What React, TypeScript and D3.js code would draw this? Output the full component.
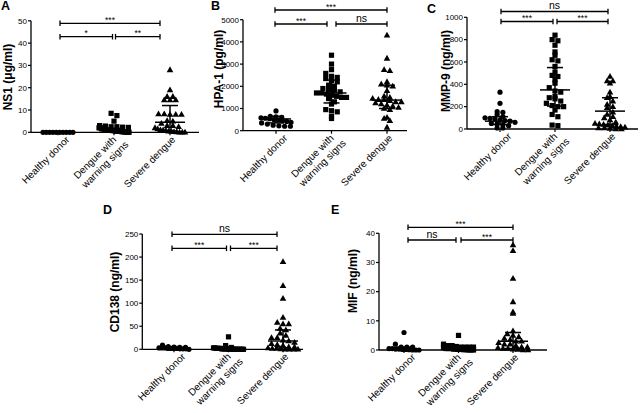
import React from "react";
import * as d3 from "d3";

// ---------- data ----------
const categoryLines: string[][] = [["Healthy donor"], ["Dengue with", "warning signs"], ["Severe dengue"]];

// A: NS1 (μg/ml)
const ns1Healthy = [0, 0, 0, 0, 0, 0, 0, 0, 0, 0];
const ns1Dengue = [8.5, 7.5, 5, 3, 2.8, 2.5, 2.5, 2.3, 2.2, 2, 2, 1.8, 1.5, 1.2, 1, 1, 1, 0.9, 0.8, 0.7, 0.6, 0.5, 0.5, 0.4, 0.3, 0.2, 0.2, 0.1, 0.1, 0];
const ns1Severe = [28, 19, 16, 16, 14.5, 14.5, 14.5, 8.2, 8.2, 8, 8, 8, 5.2, 5, 4, 3, 3, 2.5, 2, 1.5, 1, 1, 0.8, 0.5, 0.5, 0.3, 0.2, 0, 0, 0];
const ns1Stats = [[0, 0, 0], [0.7, 0.2, 1.8], [4.5, 0.5, 12]]; // median, q1, q3
const ns1Ticks = [0, 10, 20, 30, 40, 50];
const ns1Sig = ["***", "*", "**"];

// B: HPA-1 (pg/ml)
const hpaHealthy = [890, 650, 620, 600, 580, 560, 540, 500, 480, 450, 420, 380, 350, 300, 250, 220, 200, 200];
const hpaDengue = [3400, 3000, 2750, 2580, 2450, 2400, 2350, 2250, 2200, 2050, 2000, 1900, 1850, 1800, 1750, 1700, 1700, 1650, 1600, 1550, 1500, 1500, 1450, 1300, 1200, 950, 900, 850, 650, 550];
const hpaSevere = [4300, 3260, 2750, 2700, 2200, 2100, 2050, 2000, 1800, 1550, 1500, 1450, 1400, 1400, 1350, 1300, 1300, 1250, 1200, 1150, 1100, 1050, 1000, 950, 600, 550, 450, 150];
const hpaStats = [[530, 350, 650], [1700, 1250, 2280], [1380, 1000, 2050]];
const hpaTicks = [0, 1000, 2000, 3000, 4000, 5000];
const hpaSig = ["***", "***", "ns"];

// C: MMP-9 (ng/ml)
const mmpHealthy = [330, 230, 155, 150, 130, 110, 100, 95, 90, 80, 75, 70, 60, 50, 45, 40, 30, 10, 10];
const mmpDengue = [840, 800, 790, 750, 690, 660, 620, 610, 560, 510, 480, 470, 440, 410, 370, 340, 330, 290, 280, 270, 250, 230, 210, 200, 200, 170, 130, 110, 35, 30];
const mmpSevere = [470, 430, 430, 410, 330, 290, 280, 250, 220, 200, 190, 150, 130, 110, 100, 80, 60, 50, 45, 40, 35, 30, 25, 20, 15, 10, 10, 5, 0, 0];
const mmpStats = [[70, 40, 110], [350, 205, 550], [160, 40, 280]];
const mmpTicks = [0, 200, 400, 600, 800, 1000];
const mmpSig = ["ns", "***", "***"];

// D: CD138 (ng/ml)
const cdHealthy = [9, 6, 5, 4, 4, 3, 3, 3, 2, 2, 2, 2, 1, 1, 1, 0];
const cdDengue = [27, 8, 4, 3, 3, 2, 2, 2, 2, 1, 1, 1, 1, 1, 0.5, 0.5, 0.5, 0.5, 0, 0, 0, 0, 0, 0, 0, 0];
const cdSevere = [190, 138, 110, 69, 58, 55, 55, 45, 42, 35, 30, 25, 25, 20, 18, 15, 12, 10, 8, 5, 5, 3, 2, 2, 1, 0, 0, 0, 0];
const cdStats = [[3, 1, 4], [0.5, 0, 2], [18, 3, 42]];
const cdTicks = [0, 50, 100, 150, 200, 250];
const cdSig = ["ns", "***", "***"];

// E: MIF (ng/ml)
const mifHealthy = [6, 2, 1, 1, 1, 0.5, 0.5, 0.3, 0.3, 0.2, 0.2, 0.1, 0, 0, 0];
const mifDengue = [5, 2, 1.5, 1.5, 1.2, 1, 1, 1, 1, 0.8, 0.5, 0.5, 0.5, 0.3, 0.3, 0.2, 0.2, 0.1, 0.1, 0, 0, 0];
const mifSevere = [36, 34, 24.5, 16.5, 13, 12.5, 6.5, 5.5, 5, 4.5, 4, 3.5, 3, 3, 2.5, 2, 2, 1.5, 1, 1, 0.8, 0.5, 0.5, 0.3, 0.2, 0, 0];
const mifStats = [[0.3, 0, 1], [0.3, 0, 1], [3, 0.5, 6]];
const mifTicks = [0, 10, 20, 30, 40];
const mifSig = ["***", "ns", "***"];

// ---------- layout ----------
type Layout = {
  axisX: number; top: number; bottom: number; c0: number; c2: number; axisEnd: number;
  letterX: number; letterY: number; titleX: number; titleY: number;
  brTop: number; brLow: number; brL: number; brR: number; gap: number;
};

const panels = [
  { letter: "A", title: "NS1 (μg/ml)", groups: [ns1Healthy, ns1Dengue, ns1Severe], stats: ns1Stats, ticks: ns1Ticks, sig: ns1Sig,
    L: { axisX: 31, top: 20.8, bottom: 132.3, c0: 58, c2: 170, axisEnd: 199, letterX: 1, letterY: 10, titleX: 12, titleY: 77, brTop: 23.3, brLow: 36.7, brL: 2, brR: -10, gap: 1.5 } as Layout },
  { letter: "B", title: "HPA-1 (pg/ml)", groups: [hpaHealthy, hpaDengue, hpaSevere], stats: hpaStats, ticks: hpaTicks, sig: hpaSig,
    L: { axisX: 243, top: 19.7, bottom: 130.7, c0: 276, c2: 387, axisEnd: 407, letterX: 211, letterY: 10, titleX: 223, titleY: 69, brTop: 10, brLow: 24, brL: -1, brR: 0, gap: 4.5 } as Layout },
  { letter: "C", title: "MMP-9 (ng/ml)", groups: [mmpHealthy, mmpDengue, mmpSevere], stats: mmpStats, ticks: mmpTicks, sig: mmpSig,
    L: { axisX: 467, top: 17.3, bottom: 129, c0: 500, c2: 610, axisEnd: 638, letterX: 427, letterY: 13, titleX: 450, titleY: 71, brTop: 11.5, brLow: 21.5, brL: 1, brR: -2, gap: 2 } as Layout },
  { letter: "D", title: "CD138 (ng/ml)", groups: [cdHealthy, cdDengue, cdSevere], stats: cdStats, ticks: cdTicks, sig: cdSig,
    L: { axisX: 142.3, top: 234, bottom: 349.3, c0: 174, c2: 283, axisEnd: 303, letterX: 103, letterY: 214, titleX: 119, titleY: 292, brTop: 234.3, brLow: 248.3, brL: -2, brR: -6, gap: 2 } as Layout },
  { letter: "E", title: "MIF (ng/ml)", groups: [mifHealthy, mifDengue, mifSevere], stats: mifStats, ticks: mifTicks, sig: mifSig,
    L: { axisX: 379, top: 233.3, bottom: 350, c0: 404, c2: 513, axisEnd: 547, letterX: 331, letterY: 214, titleX: 357, titleY: 281, brTop: 227.3, brLow: 240, brL: 4, brR: 0, gap: 2.5 } as Layout },
];

const labelShift = [12, 3, 6];
const FONT = "'Liberation Sans', Arial, sans-serif";
const MARK = 5;

function swarm(values: number[], y: (v: number) => number, cx: number, maxHalf: number) {
  const pts = values.map((v) => ({ v, py: y(v) }));
  const bins = d3.group(pts, (p) => Math.round(p.py / MARK));
  const out: { x: number; y: number }[] = [];
  for (const [, arr] of bins) {
    const n = arr.length;
    const spacing = n > 1 ? Math.min(MARK * 1.15, (2 * maxHalf) / (n - 1)) : 0;
    arr.forEach((p, i) => out.push({ x: cx + (i - (n - 1) / 2) * spacing, y: p.py }));
  }
  return out;
}

function marker(shape: number, x: number, y: number, key: string) {
  if (shape === 0) return <circle key={key} cx={x} cy={y} r={2.6} fill="#000" />;
  if (shape === 1) return <rect key={key} x={x - 2.6} y={y - 2.6} width={5.2} height={5.2} fill="#000" />;
  return <path key={key} d={`M${x},${y - 3.5}L${x + 3.3},${y + 2.3}L${x - 3.3},${y + 2.3}Z`} fill="#000" />;
}

function Panel({ p }: { p: (typeof panels)[number] }) {
  const L = p.L;
  const y = d3.scaleLinear().domain([0, p.ticks[p.ticks.length - 1]]).range([L.bottom, L.top]);
  const x = d3.scalePoint<number>().domain([0, 1, 2]).range([L.c0, L.c2]);
  const cx = [0, 1, 2].map((i) => x(i) as number);
  const bl = cx[0] + L.brL, br = cx[2] + L.brR, bm = cx[1];
  const cap = 2.8;
  const bracket = (x1: number, x2: number, yy: number, label: string, k: string) => {
    const big = label === "ns";
    return (
      <g key={k}>
        <line x1={x1} x2={x2} y1={yy} y2={yy} stroke="#000" strokeWidth={1.3} />
        <line x1={x1} x2={x1} y1={yy - cap} y2={yy + cap} stroke="#000" strokeWidth={1.3} />
        <line x1={x2} x2={x2} y1={yy - cap} y2={yy + cap} stroke="#000" strokeWidth={1.3} />
        <text x={(x1 + x2) / 2} y={big ? yy - 2.5 : yy - 0.5} textAnchor="middle" fontSize={big ? 10.5 : 8.5} fontFamily={FONT}>{label}</text>
      </g>
    );
  };
  return (
    <g>
      <text x={L.letterX} y={L.letterY} fontSize={12.5} fontWeight="bold" fontFamily={FONT}>{p.letter}</text>
      <text transform={`translate(${L.titleX},${L.titleY}) rotate(-90)`} textAnchor="middle" fontSize={12} fontWeight="bold" fontFamily={FONT}>{p.title}</text>
      {/* y axis */}
      <line x1={L.axisX} x2={L.axisX} y1={L.top} y2={L.bottom} stroke="#000" strokeWidth={1.3} />
      {p.ticks.map((t) => (
        <g key={t}>
          <line x1={L.axisX - 3} x2={L.axisX} y1={y(t)} y2={y(t)} stroke="#000" strokeWidth={1.2} />
          <text x={L.axisX - 4} y={y(t) + 2.8} textAnchor="end" fontSize={8} fontFamily={FONT}>{t}</text>
        </g>
      ))}
      {/* x axis */}
      <line x1={L.axisX} x2={L.axisEnd} y1={L.bottom} y2={L.bottom} stroke="#000" strokeWidth={1.3} />
      {cx.map((c, i) => (
        <g key={i}>
          <line x1={c} x2={c} y1={L.bottom} y2={L.bottom + 3} stroke="#000" strokeWidth={1.2} />
          <g transform={`translate(${c + labelShift[i]},${L.bottom + 8}) rotate(-45)`}>
            {categoryLines[i].map((s, j) => (
              <text key={j} x={j * 5} y={j * 12} textAnchor="end" fontSize={10} fontFamily={FONT}>{s}</text>
            ))}
          </g>
        </g>
      ))}
      {/* points */}
      {p.groups.map((g, gi) => swarm(g, y, cx[gi], 15).map((pt, k) => marker(gi, pt.x, pt.y, `${gi}-${k}`)))}
      {/* median + IQR */}
      {p.stats.map(([m, q1, q3], i) => (
        <g key={i}>
          <line x1={cx[i] - 15} x2={cx[i] + 15} y1={y(m)} y2={y(m)} stroke="#000" strokeWidth={1.5} />
          <line x1={cx[i]} x2={cx[i]} y1={y(q1)} y2={y(q3)} stroke="#000" strokeWidth={1.5} />
          <line x1={cx[i] - 8} x2={cx[i] + 8} y1={y(q1)} y2={y(q1)} stroke="#000" strokeWidth={1.5} />
          <line x1={cx[i] - 8} x2={cx[i] + 8} y1={y(q3)} y2={y(q3)} stroke="#000" strokeWidth={1.5} />
        </g>
      ))}
      {/* significance brackets */}
      {bracket(bl, br, L.brTop, p.sig[0], "t")}
      {bracket(bl, bm - L.gap, L.brLow, p.sig[1], "l")}
      {bracket(bm + L.gap, br, L.brLow, p.sig[2], "r")}
    </g>
  );
}

export default function App() {
  return (
    <svg width={640} height={413} style={{ position: "absolute", left: 0, top: 0, background: "#fff" }}>
      <rect width={640} height={413} fill="#fff" />
      {panels.map((p) => <Panel key={p.letter} p={p} />)}
    </svg>
  );
}
